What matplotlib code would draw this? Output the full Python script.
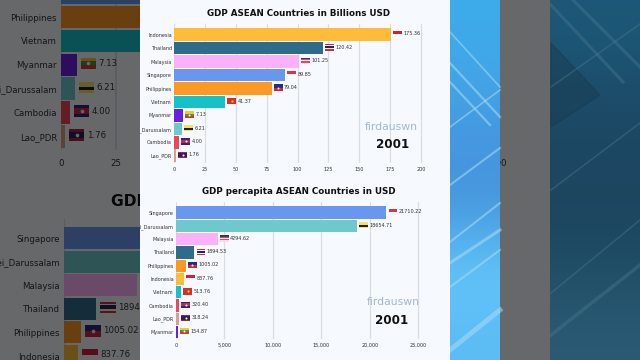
import numpy as np
import matplotlib
matplotlib.use("Agg")
import matplotlib.pyplot as plt
from matplotlib.patches import Rectangle
from matplotlib.transforms import Bbox, TransformedBbox

# ===================
# DATA
# ===================
GDP_NAMES = ["Indonesia", "Thailand", "Malaysia", "Singapore", "Philippines",
             "Vietnam", "Myanmar", "Brunei_Darussalam", "Cambodia", "Lao_PDR"]
GDP_VALUES = [175.36, 120.42, 101.25, 89.85, 79.04, 41.37, 7.13, 6.21, 4.00, 1.76]
GDP_TICKS = [0, 25, 50, 75, 100, 125, 150, 175, 200]

CAP_NAMES = ["Singapore", "Brunei_Darussalam", "Malaysia", "Thailand", "Philippines",
             "Indonesia", "Vietnam", "Cambodia", "Lao_PDR", "Myanmar"]
CAP_VALUES = [21710.22, 18654.71, 4294.62, 1894.53, 1005.02, 837.76, 513.76, 320.40, 318.24, 154.87]
CAP_TICKS = [0, 5000, 10000, 15000, 20000, 25000]

GDP_TITLE = "GDP ASEAN Countries in Billions USD"
CAP_TITLE = "GDP percapita ASEAN Countries in USD"
YEAR = "2001"
WATERMARK = "firdauswn"

COLORS = {
    "Indonesia": "#FFBC3A", "Thailand": "#2F6C8C", "Malaysia": "#FDB0FA",
    "Singapore": "#6A97EE", "Philippines": "#FC9824", "Vietnam": "#16C2C8",
    "Myanmar": "#6A20E0", "Brunei_Darussalam": "#6EC8CC", "Cambodia": "#EC4658",
    "Lao_PDR": "#DE9C90",
}

# stripes top to bottom, and an optional emblem colour
FLAGS = {
    "Indonesia": (["#D42035", "#F8F8F8"], None),
    "Thailand": (["#C83040", "#F0F0F0", "#2A2450", "#2A2450", "#F0F0F0", "#C83040"], None),
    "Malaysia": (["#3A3070", "#D85060", "#F0E0E0", "#D85060", "#F0E0E0"], None),
    "Singapore": (["#E03048", "#F8F8F8"], None),
    "Philippines": (["#2A2A80", "#C82840"], "#F4F0D0"),
    "Vietnam": (["#D83020"], "#F8D838"),
    "Myanmar": (["#F2C830", "#3C9A40", "#DC3828"], "#F4F4F4"),
    "Brunei_Darussalam": (["#F8E060", "#F8E060", "#202020", "#F8E060"], None),
    "Cambodia": (["#2A2878", "#C42848", "#C42848", "#2A2878"], "#F0E8F0"),
    "Lao_PDR": (["#B02040", "#2A2060", "#2A2060", "#B02040"], "#F8F8F8"),
}

W, H = 640, 360
PANEL = "#F6F9FE"
FONT = 3.5
TITLE_FONT = 6.3


# ============
# HELPERS
# ============
def px_axes(fig, left, right, top, bottom, zorder):
    ax = fig.add_axes([left / W, 1 - bottom / H, (right - left) / W, (bottom - top) / H], zorder=zorder)
    return ax


def layer(fig, zorder):
    ax = px_axes(fig, 0, W, 0, H, zorder)
    ax.set_xlim(0, W)
    ax.set_ylim(H, 0)
    ax.axis("off")
    ax.patch.set_alpha(0)
    return ax


def draw_flag(ax, name, x, y, w, h, scale):
    stripes, emblem = FLAGS[name]
    sh = h / len(stripes)
    for i, c in enumerate(stripes):
        ax.add_patch(Rectangle((x, y - h / 2 + i * sh), w, sh, fc=c, ec="none", zorder=4))
    if emblem:
        ax.plot([x + w / 2], [y], "o", ms=1.5 * scale, color=emblem, mew=0, zorder=5)


def draw_chart(fig, names, values, ticks, x0, px_per_unit, first_row, step, scale, zorder, clip_left=None):
    # row -0.8 .. 9.55 sets the height of the gridlines, xlim maps value to pixel
    xmax = ticks[-1] * 1.01
    ax = px_axes(fig, x0, x0 + xmax * px_per_unit,
                 first_row - 0.8 * step, first_row + 9.55 * step, zorder)
    ax.patch.set_alpha(0)
    ax.set_xlim(0, xmax)
    ax.set_ylim(9.55, -0.8)
    ax.set_xticks(ticks)
    ax.set_xticklabels([f"{t:,}" for t in ticks], fontsize=FONT * scale, color="#333333")
    ax.set_yticks(range(len(names)))
    ax.set_yticklabels(names, fontsize=FONT * scale, color="#333333")
    ax.tick_params(axis="x", length=0, pad=2.6 * scale + (2 if scale > 1 else 0))
    ax.tick_params(axis="y", length=0, pad=1.6 * scale)
    ax.grid(axis="x", color="#DADDE6", lw=0.9 * scale)
    ax.set_axisbelow(True)
    for s in ax.spines.values():
        s.set_visible(False)
    ax.barh(range(len(names)), values, height=0.94, color=[COLORS[n] for n in names], zorder=3)
    fw = 8.7 * scale / px_per_unit
    gap = 2.3 * scale / px_per_unit
    for i, (n, v) in enumerate(zip(names, values)):
        draw_flag(ax, n, v + gap, i - 0.06, fw, 0.48, scale)
        ax.text(v + gap + fw + 1.5 * scale / px_per_unit, i - 0.06, f"{v:.2f}",
                fontsize=FONT * scale, color="#333333", va="center", zorder=5)
    if clip_left is not None:
        # long names get cut at the edge of the panel
        box = TransformedBbox(Bbox([[clip_left / W, 0], [1, 1]]), fig.transFigure)
        for lab in ax.get_yticklabels():
            lab.set_clip_box(box)
            lab.set_clip_on(True)
    return ax


# ============
# FIGURE
# ============
fig = plt.figure(figsize=(W / 100, H / 100), dpi=100)

# enlarged, dimmed copy behind the sharp layer
base = layer(fig, 0)
base.add_patch(Rectangle((0, 0), W, H, fc=PANEL, ec="none"))

draw_chart(fig, GDP_NAMES, GDP_VALUES, GDP_TICKS, 61, 2.19, -78.6, 23.9, 1.77, 1)
draw_chart(fig, CAP_NAMES, CAP_VALUES, CAP_TICKS, 64, 0.01705, 238, 23.6, 1.77, 1)
base.text(282, 201.5, CAP_TITLE, fontsize=TITLE_FONT * 1.77, fontweight="bold", color="#111111",
          ha="center", va="center")

# dim overlay, dark background on the right, blue strip and panel on top
over = layer(fig, 2)
over.add_patch(Rectangle((0, 0), W, H, fc="black", alpha=0.58, ec="none"))

dark = np.array([[0.110, 0.345, 0.470], [0.110, 0.290, 0.400], [0.110, 0.270, 0.375],
                 [0.115, 0.285, 0.385], [0.165, 0.355, 0.455]])[:, None, :]
over.imshow(dark, extent=(550, 640, H, 0), aspect="auto", interpolation="bicubic", zorder=2)
over.set_xlim(0, W)
over.set_ylim(H, 0)
over.fill([551, 600, 551], [43, 95, 127], color="#183A50", alpha=0.45, zorder=3)
for x1, y1, x2, y2, lw in [(551, 5, 623, 82, 2.2), (573, 0, 640, 67, 2.2), (551, 87, 640, 24, 1.2),
                           (551, 190, 640, 123, 1.2), (551, 293, 640, 220, 1.2),
                           (551, 335, 640, 265, 2.5)]:
    over.plot([x1, x2], [y1, y2], color="#4A7A92", alpha=0.4, lw=lw, zorder=4)

blue = np.array([[0.24, 0.67, 0.92], [0.27, 0.64, 0.90], [0.27, 0.58, 0.87], [0.28, 0.60, 0.87],
                 [0.39, 0.78, 0.98], [0.36, 0.74, 0.96]])[:, None, :]
top = layer(fig, 3)
top.imshow(blue, extent=(449, 500, H, 0), aspect="auto", interpolation="bicubic", zorder=1)
top.set_xlim(0, W)
top.set_ylim(H, 0)
for x1, y1, x2, y2, lw in [(450, 32, 500, 87, 1.2), (450, 63, 500, 117, 1.6), (450, 82, 490, 125, 1.6),
                           (450, 127, 500, 90, 1.2), (450, 185, 500, 148, 1.5), (450, 242, 500, 203, 1.5),
                           (450, 263, 500, 230, 2.2), (450, 287, 500, 250, 1.5), (450, 350, 500, 310, 3.5)]:
    top.plot([x1, x2], [y1, y2], color="#A8DCF8", alpha=0.55, lw=lw, zorder=2)
top.add_patch(Rectangle((140, 0), 309.5, H, fc=PANEL, ec="none", zorder=3))

# sharp layer
draw_chart(fig, GDP_NAMES, GDP_VALUES, GDP_TICKS, 174, 1.235, 34.7, 13.45, 1, 4, clip_left=140)
draw_chart(fig, CAP_NAMES, CAP_VALUES, CAP_TICKS, 176, 0.00969, 212.7, 13.26, 1, 4, clip_left=140)

front = layer(fig, 5)
front.text(298.5, 13.7, GDP_TITLE, fontsize=TITLE_FONT, fontweight="bold", color="#111111",
           ha="center", va="center")
front.text(298.5, 191.7, CAP_TITLE, fontsize=TITLE_FONT, fontweight="bold", color="#111111",
           ha="center", va="center")
front.text(391, 127.5, WATERMARK, fontsize=7.8, color="#A4B8D0", ha="center", va="center")
front.text(393, 144, YEAR, fontsize=8.6, fontweight="bold", color="#111111", ha="center", va="center")
front.text(393, 301.7, WATERMARK, fontsize=7.8, color="#A4B8D0", ha="center", va="center")
front.text(392, 320.5, YEAR, fontsize=8.6, fontweight="bold", color="#111111", ha="center", va="center")

fig.savefig("out.png", dpi=100)
